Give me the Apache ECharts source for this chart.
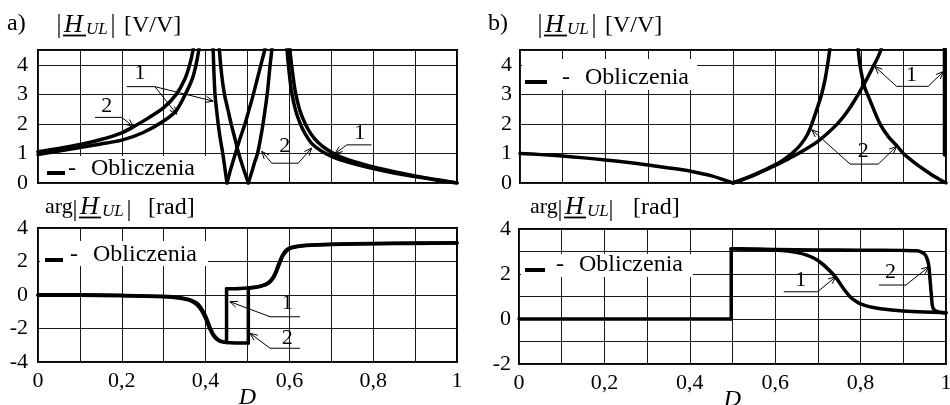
<!DOCTYPE html>
<html>
<head>
<meta charset="utf-8">
<script src="https://cdn.jsdelivr.net/npm/echarts@6/dist/echarts.min.js"></script>
<style>
  html, body { margin: 0; padding: 0; background: #fff; }
  #chart { width: 950px; height: 405px; }
</style>
</head>
<body>
<div id="chart"></div>
<script>
// ---------- a) |H_UL| [V/V] : curve 1 and curve 2, branch by branch ----------
const aMag1Rise = [[0,0.96],[0.05,1.08],[0.1,1.2],[0.15,1.32],[0.2,1.45],[0.25,1.7],[0.3,2.1],[0.33,2.45],[0.355,3.1],[0.37,3.6],[0.38,4.2],[0.388,4.9]];
const aMag1DipDown = [[0.4165,5.0],[0.418,4.5],[0.42,3.7],[0.4224,3.0],[0.426,2.5],[0.43,2.0],[0.435,1.5],[0.441,1.0],[0.446,0.5],[0.451,0.0]];
const aMag1DipUp = [[0.451,0.0],[0.46,0.47],[0.47,0.95],[0.482,1.5],[0.494,2.0],[0.504,2.5],[0.514,3.0],[0.523,3.5],[0.532,4.0],[0.541,4.5],[0.546,4.9]];
const aMag1Tail = [[0.598,5.0],[0.602,4.4],[0.607,3.8],[0.614,3.1],[0.625,2.45],[0.638,2.0],[0.652,1.65],[0.668,1.38],[0.688,1.15],[0.708,0.98],[0.73,0.84],[0.755,0.72],[0.8,0.54],[0.85,0.38],[0.9,0.24],[0.95,0.12],[1.0,0.0]];

const aMag2Rise = [[0,1.06],[0.05,1.17],[0.1,1.3],[0.15,1.47],[0.2,1.7],[0.23,1.92],[0.26,2.17],[0.3,2.55],[0.33,3.0],[0.35,3.5],[0.362,4.0],[0.37,4.5],[0.375,5.0]];
const aMag2DipDown = [[0.431,5.0],[0.433,4.5],[0.438,3.7],[0.445,3.0],[0.453,2.5],[0.461,2.0],[0.47,1.5],[0.479,1.0],[0.49,0.5],[0.502,0.0]];
const aMag2DipUp = [[0.502,0.0],[0.51,0.36],[0.517,0.7],[0.524,1.0],[0.531,1.5],[0.537,2.0],[0.547,3.0],[0.554,4.0],[0.558,4.5],[0.561,5.0]];
const aMag2Tail = [[0.592,5.0],[0.595,4.4],[0.599,3.8],[0.605,3.1],[0.615,2.45],[0.626,2.0],[0.638,1.65],[0.652,1.36],[0.672,1.12],[0.692,0.96],[0.715,0.82],[0.75,0.67],[0.8,0.49],[0.85,0.34],[0.9,0.22],[0.95,0.1],[1.0,0.0]];

// ---------- a) arg H_UL [rad] ----------
const aPh1Lead = [[0,0.02],[0.1,0.01],[0.2,-0.02],[0.3,-0.08],[0.34,-0.16],[0.36,-0.26],[0.37,-0.36],[0.38,-0.5],[0.39,-0.8],[0.4,-1.25],[0.41,-1.9],[0.42,-2.4],[0.43,-2.66],[0.44,-2.78],[0.45,-2.83]];
const aPh1Tail = [[0.45,0.38],[0.47,0.38],[0.5,0.42],[0.52,0.48],[0.535,0.56],[0.548,0.7],[0.558,0.95],[0.566,1.3],[0.574,1.82],[0.582,2.3],[0.59,2.62],[0.6,2.8],[0.615,2.9],[0.64,2.97],[0.7,3.03],[0.8,3.08],[0.9,3.1],[1.0,3.12]];
const aPh2Lead = [[0,-0.01],[0.1,-0.02],[0.2,-0.04],[0.3,-0.11],[0.34,-0.2],[0.36,-0.31],[0.37,-0.42],[0.38,-0.6],[0.39,-0.92],[0.4,-1.4],[0.41,-2.02],[0.42,-2.48],[0.43,-2.7],[0.44,-2.8],[0.46,-2.85],[0.48,-2.87],[0.502,-2.87]];
const aPh2Tail = [[0.502,0.4],[0.52,0.46],[0.535,0.54],[0.55,0.7],[0.56,0.95],[0.568,1.32],[0.576,1.85],[0.584,2.32],[0.592,2.6],[0.602,2.78],[0.617,2.88],[0.64,2.95],[0.7,3.01],[0.8,3.06],[0.9,3.08],[1.0,3.1]];

// ---------- b) |H_UL| [V/V] ----------
const bMagDrop = [[0,1.0],[0.05,0.96],[0.1,0.91],[0.15,0.85],[0.2,0.78],[0.25,0.7],[0.3,0.61],[0.35,0.51],[0.4,0.4],[0.45,0.24],[0.5,0.0]];
const bMag1Rise = [[0.5,0.0],[0.55,0.27],[0.6,0.6],[0.625,0.78],[0.65,0.97],[0.7,1.42],[0.745,2.0],[0.77,2.45],[0.792,2.95],[0.806,3.3],[0.82,3.68],[0.831,4.0],[0.84,4.25],[0.847,4.5],[0.855,4.9]];
const bMag1Edge = [[0.997,0.96],[0.997,5.0]];
const bMag2Rise = [[0.5,0.0],[0.55,0.28],[0.6,0.62],[0.62,0.8],[0.64,1.02],[0.66,1.32],[0.675,1.65],[0.685,2.0],[0.697,2.5],[0.708,3.0],[0.716,3.5],[0.722,4.0],[0.727,4.5],[0.731,5.0]];
const bMag2Fall = [[0.791,5.0],[0.794,4.5],[0.798,4.0],[0.803,3.6],[0.81,3.2],[0.818,2.92],[0.83,2.5],[0.845,2.0],[0.865,1.56],[0.886,1.24],[0.9,1.0],[0.925,0.7],[0.95,0.44],[0.975,0.2],[1.0,0.0]];

// ---------- b) arg H_UL [rad] ----------
const bPhFlat = [[0,0.0],[0.25,0.0],[0.497,0.0]];
const bPh1Top = [[0.497,3.12],[0.55,3.1],[0.6,3.07],[0.63,3.02],[0.652,2.95],[0.672,2.85],[0.691,2.7],[0.707,2.5],[0.722,2.25],[0.742,1.85],[0.761,1.32],[0.777,0.96],[0.79,0.78],[0.8,0.67],[0.82,0.55],[0.847,0.46],[0.9,0.36],[0.95,0.31],[1.0,0.28]];
const bPh2Top = [[0.497,3.12],[0.6,3.09],[0.7,3.07],[0.8,3.06],[0.9,3.05],[0.933,3.03],[0.945,2.95],[0.952,2.84],[0.957,2.6],[0.96,2.33],[0.962,1.9],[0.964,1.44],[0.966,1.0],[0.968,0.6],[0.972,0.42],[0.98,0.33],[0.99,0.29],[1.0,0.28]];

// tick label text on the D axis (every second grid line)
const xTickLabels = ['0', '0,2', '0,4', '0,6', '0,8', '1'];
const legendDash = '-';
const legendWord = 'Obliczenia';

// curve-number call-outs, anchored in data coordinates of their panel
const callouts = [
  { grid: 0, label: '2', at: [0.164, 2.59], legs: [[[0.136, 2.22], [0.2, 2.22], [0.2275, 1.91]]], both: false },
  { grid: 0, label: '1', at: [0.2435, 3.72], legs: [[[0.2117, 3.26], [0.279, 3.26], [0.331, 2.33]], [[0.279, 3.26], [0.418, 2.77]]], both: false },
  { grid: 0, label: '2', at: [0.589, 1.24], legs: [[[0.534, 1.07], [0.558, 0.67], [0.621, 0.67], [0.653, 1.18]]], both: true },
  { grid: 0, label: '1', at: [0.768, 1.69], legs: [[[0.796, 1.29], [0.737, 1.29], [0.709, 1.0]]], both: false },
  { grid: 1, label: '1', at: [0.595, -0.5], legs: [[[0.625, -1.3], [0.554, -1.3], [0.458, -0.4]]], both: false },
  { grid: 1, label: '2', at: [0.595, -2.59], legs: [[[0.625, -3.18], [0.554, -3.18], [0.506, -2.29]]], both: false },
  { grid: 2, label: '1', at: [0.919, 3.66], legs: [[[0.833, 3.94], [0.884, 3.27], [0.958, 3.27], [0.994, 3.77]]], both: true },
  { grid: 2, label: '2', at: [0.806, 1.07], legs: [[[0.685, 1.8], [0.775, 0.64], [0.841, 0.64], [0.884, 1.24]]], both: true },
  { grid: 3, label: '1', at: [0.66, 1.73], legs: [[[0.62, 1.21], [0.699, 1.21], [0.742, 1.88]]], both: false },
  { grid: 3, label: '2', at: [0.87, 2.1], legs: [[[0.843, 1.51], [0.906, 1.51], [0.96, 2.32]]], both: false }
];

const FONT = '"Liberation Serif", "Times New Roman", serif';
const INK = '#000';
const GRIDLINE = '#1a1a1a';

const chart = echarts.init(document.getElementById('chart'), null, { renderer: 'canvas' });

const gridBoxes = [
  { left: 38, top: 50, width: 419, height: 133 },
  { left: 38, top: 228, width: 419, height: 134 },
  { left: 520, top: 50, width: 426, height: 133 },
  { left: 519, top: 229, width: 427, height: 135 }
];

function xAxisFor(grid, withLabels) {
  return {
    type: 'value', gridIndex: grid, min: 0, max: 1, interval: 0.1,
    axisLine: { show: false }, axisTick: { show: false },
    splitLine: { show: true, lineStyle: { color: GRIDLINE, width: 1 } },
    axisLabel: {
      show: withLabels, color: INK, fontFamily: FONT, fontSize: 22, margin: 8,
      formatter: function (v) { const k = Math.round(v * 10); return k % 2 === 0 ? xTickLabels[k / 2] : ''; }
    },
    name: withLabels ? 'D' : '', nameLocation: 'middle', nameGap: 24, nameMoveOverlap: false,
    nameTextStyle: { fontFamily: FONT, fontStyle: 'italic', fontSize: 24, color: INK }
  };
}

function yAxisFor(grid, min, max, step, labelStep, margin) {
  return {
    type: 'value', gridIndex: grid, min: min, max: max, interval: step,
    axisLine: { show: false }, axisTick: { show: false },
    splitLine: { show: true, lineStyle: { color: GRIDLINE, width: 1 } },
    axisLabel: {
      color: INK, fontFamily: FONT, fontSize: 22, margin: margin,
      formatter: function (v) {
        const r = Math.round(v);
        return (Math.abs(v - r) < 1e-6 && r % labelStep === 0) ? String(r) : '';
      }
    }
  };
}

function curve(grid, data, smooth, width) {
  return {
    type: 'line', xAxisIndex: grid, yAxisIndex: grid, data: data,
    showSymbol: false, symbol: 'none', smooth: smooth ? 0.3 : false,
    lineStyle: { color: INK, width: width || 3.5, cap: 'round', join: 'round' },
    z: 3, silent: true, animation: false
  };
}
// vertical step joining the end of one branch to the start of the next
function step(grid, a, b) { return curve(grid, [a[a.length - 1], b[0]], false); }

const series = [
  curve(0, aMag1Rise, true), curve(0, aMag1DipDown, true), curve(0, aMag1DipUp, true), curve(0, aMag1Tail, true),
  curve(0, aMag2Rise, true), curve(0, aMag2DipDown, true), curve(0, aMag2DipUp, true), curve(0, aMag2Tail, true),

  curve(1, aPh1Lead, true), step(1, aPh1Lead, aPh1Tail), curve(1, aPh1Tail, true),
  curve(1, aPh2Lead, true), step(1, aPh2Lead, aPh2Tail), curve(1, aPh2Tail, true),

  curve(2, bMagDrop, true), curve(2, bMag1Rise, true), curve(2, bMag1Edge, false, 4),
  curve(2, bMag2Rise, true), curve(2, bMag2Fall, true),

  curve(3, bPhFlat, false), step(3, bPhFlat, bPh1Top), curve(3, bPh1Top, true), curve(3, bPh2Top, true)
];

chart.setOption({
  animation: false,
  backgroundColor: '#fff',
  grid: gridBoxes.map(function (g) {
    return Object.assign({
      show: true, borderColor: INK, borderWidth: 2, backgroundColor: 'transparent',
      containLabel: false, outerBoundsMode: 'none'
    }, g);
  }),
  xAxis: [xAxisFor(0, false), xAxisFor(1, true), xAxisFor(2, false), xAxisFor(3, true)],
  yAxis: [
    yAxisFor(0, 0, 4.5, 1, 1, 10),
    yAxisFor(1, -4, 4, 2, 2, 10),
    yAxisFor(2, 0, 4.5, 1, 1, 8),
    yAxisFor(3, -2, 4, 1, 2, 8)
  ],
  series: series
});

// ---------- overlay: titles, legend boxes, call-outs ----------
const els = [];

function txt(x, y, s, size, italic, align) {
  els.push({
    type: 'text', z: 10, silent: true,
    style: {
      x: x, y: y, text: s, fill: INK,
      font: (italic ? 'italic ' : '') + size + 'px ' + FONT,
      textAlign: align || 'left', textVerticalAlign: 'middle'
    }
  });
}
function seg(x1, y1, x2, y2, w, z) {
  els.push({
    type: 'line', z: z || 10, silent: true,
    shape: { x1: x1, y1: y1, x2: x2, y2: y2 },
    style: { stroke: INK, lineWidth: w || 1 }
  });
}

// |H_UL| [V/V] heading
function magTitle(ox, tag) {
  txt(ox + 7, 24, tag, 24);
  seg(ox + 59, 14, ox + 59, 38, 1.2);
  txt(ox + 64, 25, 'H', 26, true);
  txt(ox + 86, 30, 'UL', 17, true);
  seg(ox + 63, 35.5, ox + 86, 35.5, 1.8);
  seg(ox + 113, 14, ox + 113, 38, 1.2);
  txt(ox + 124, 26, '[V/V]', 24);
}
// arg|H_UL| [rad] heading
function argTitle(ox, barR) {
  txt(ox + 45, 207, 'arg', 22);
  seg(ox + 75, 200, ox + 75, 221, 1.2);
  txt(ox + 80, 207, 'H', 26, true);
  txt(ox + 102, 212, 'UL', 17, true);
  seg(ox + 79, 217.5, ox + 101, 217.5, 1.8);
  seg(barR, 200, barR, 221, 1.2);
  txt(ox + 148, 208, '[rad]', 24);
}
magTitle(0, 'a)');
magTitle(481, 'b)');
argTitle(0, 129);
argTitle(485, 611);

// "- Obliczenia" legend boxes on white background
function legendBox(x, y, w, h, d1, d2, dy, tx, ty) {
  els.push({
    type: 'rect', z: 1, silent: true,
    shape: { x: x, y: y, width: w, height: h },
    style: { fill: '#fff', stroke: null }
  });
  seg(d1, dy, d2, dy, 4, 4);
  txt(tx, ty, legendDash, 24);
  txt(tx + 23, ty, legendWord, 24);
}
legendBox(40, 156, 170, 26, 47, 65, 173, 68, 169);
legendBox(40, 241, 168, 25, 45, 63, 260, 70, 255);
legendBox(522, 59, 175, 31, 525, 547, 82, 562, 78);
legendBox(521, 254, 172, 23, 525, 545, 270, 556, 265);

// call-outs with open arrowheads
function arrowHead(p, q) {
  const dx = p[0] - q[0], dy = p[1] - q[1];
  const L = Math.sqrt(dx * dx + dy * dy) || 1;
  const ux = dx / L, uy = dy / L, len = 8, a = 0.4;
  const c = Math.cos(a), s = Math.sin(a);
  const r1 = [ux * c - uy * s, ux * s + uy * c];
  const r2 = [ux * c + uy * s, -ux * s + uy * c];
  seg(p[0], p[1], p[0] - len * r1[0], p[1] - len * r1[1], 1);
  seg(p[0], p[1], p[0] - len * r2[0], p[1] - len * r2[1], 1);
}
callouts.forEach(function (c) {
  const toPx = function (v) { return chart.convertToPixel({ gridIndex: c.grid }, v); };
  const at = toPx(c.at);
  txt(at[0], at[1], c.label, 22, false, 'center');
  c.legs.forEach(function (leg) {
    const pts = leg.map(toPx);
    els.push({
      type: 'polyline', z: 10, silent: true,
      shape: { points: pts },
      style: { stroke: INK, lineWidth: 1, fill: null }
    });
    arrowHead(pts[pts.length - 1], pts[pts.length - 2]);
    if (c.both) arrowHead(pts[0], pts[1]);
  });
});

chart.setOption({ graphic: { elements: els } });
</script>
</body>
</html>
